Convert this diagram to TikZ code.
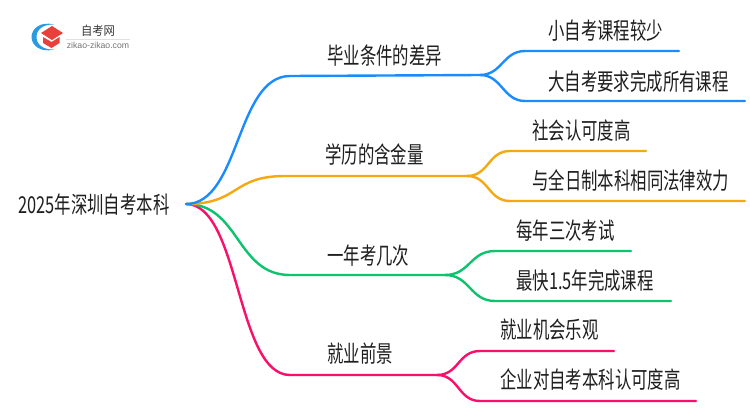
\documentclass[tikz,border=0pt]{standalone}
\usepackage{fontspec}
\setmainfont{Noto Sans CJK SC}
\newfontfamily\latinfont{Liberation Sans}
\definecolor{blueline}{HTML}{1A8CFF}
\definecolor{orangeline}{HTML}{F5A80F}
\definecolor{greenline}{HTML}{0DC46E}
\definecolor{pinkline}{HTML}{FA0F6B}
\definecolor{logored}{HTML}{E8403A}
\definecolor{logoblue}{HTML}{2A9BE0}
\newcommand{\tallbox}[1]{\scalebox{1}[1.42]{#1}}
\tikzset{
label/.style={anchor=west,inner sep=0pt,font=\fontsize{16.4}{20}\selectfont,text=black!88},
branch/.style={line width=2.4pt,line cap=round}
}
\begin{document}
\begin{tikzpicture}[x=1pt,y=-1pt]
\useasboundingbox (0,0) rectangle (750,410);
\fill [white] (0,0) rectangle (750,410);

\fill [logoblue] (54,24.5) .. controls (40,21) and (31.5,29) .. (31.5,37) .. controls (31.5,45) and (40,53) .. (54,49.5) .. controls (44,50) and (36.5,45) .. (36.5,37) .. controls (36.5,29) and (44,24) .. (54,24.5) -- cycle;
\fill [logored] (52,26) -- (63,33) -- (52,40) -- (41,33) -- cycle;
\fill [logored] (43,37) -- (51.5,42) -- (59.5,37) -- (59.5,43) -- (51.5,48) -- (43,43) -- cycle;
\node [inner sep=0pt,font=\fontsize{11.3}{13}\selectfont,text=black!78] (logoname) at (98,31) {\scalebox{1}[1.1]{自考网}};
\draw [black!12,line width=0.6pt] (66,39) -- (130,39);
\node [inner sep=0pt,font=\latinfont\fontsize{8.7}{10}\selectfont,text=black!55,anchor=center] (logourl) at (98,45) {zikao-zikao.com};

\node [label] (root) at (18,205) {\tallbox{2025年深圳自考本科}};
\coordinate (start) at (186,204);

\node [label] (graduate) at (327,56) {\tallbox{毕业条件的差异}};
\coordinate (graduatea) at (290,76);
\coordinate (graduateb) at (480,75);
\node [label] (fewer) at (548,31) {\tallbox{小自考课程较少}};
\coordinate (fewera) at (525,51);
\coordinate (fewerb) at (679,51);
\node [label] (allcourse) at (548,82) {\tallbox{大自考要求完成所有课程}};
\coordinate (allcoursea) at (525,101);
\coordinate (allcourseb) at (745,101);

\node [label] (degree) at (325,155) {\tallbox{学历的含金量}};
\coordinate (degreea) at (285,176);
\coordinate (degreeb) at (467,176);
\node [label] (social) at (532,131) {\tallbox{社会认可度高}};
\coordinate (sociala) at (510,151);
\coordinate (socialb) at (646,151);
\node [label] (legal) at (532,181) {\tallbox{与全日制本科相同法律效力}};
\coordinate (legala) at (510,201);
\coordinate (legalb) at (745,201);

\node [label] (times) at (327,256) {\tallbox{一年考几次}};
\coordinate (timesa) at (290,275);
\coordinate (timesb) at (445,275);
\node [label] (thrice) at (516,231) {\tallbox{每年三次考试}};
\coordinate (thricea) at (495,251);
\coordinate (thriceb) at (631,251);
\node [label] (fastest) at (516,281) {\tallbox{最快1.5年完成课程}};
\coordinate (fastesta) at (495,301);
\coordinate (fastestb) at (671,301);

\node [label] (career) at (327,354) {\tallbox{就业前景}};
\coordinate (careera) at (290,375);
\coordinate (careerb) at (437,375);
\node [label] (chance) at (500,330) {\tallbox{就业机会乐观}};
\coordinate (chancea) at (480,351);
\coordinate (chanceb) at (614,351);
\node [label] (accept) at (500,380) {\tallbox{企业对自考本科认可度高}};
\coordinate (accepta) at (480,401);
\coordinate (acceptb) at (696,401);

\draw [branch,pinkline] (start) .. controls +(54,0) and +(-54,0) .. (careera) -- (careerb);
\draw [branch,greenline] (start) .. controls +(54,0) and +(-54,0) .. (timesa) -- (timesb);
\draw [branch,orangeline] (start) .. controls +(54,0) and +(-54,0) .. (degreea) -- (degreeb);
\draw [branch,blueline] (start) .. controls +(54,0) and +(-54,0) .. (graduatea) -- (graduateb);

\draw [branch,blueline] (graduateb) .. controls +(22,0) and +(-22,0) .. (fewera) -- (fewerb);
\draw [branch,blueline] (graduateb) .. controls +(22,0) and +(-22,0) .. (allcoursea) -- (allcourseb);
\draw [branch,orangeline] (degreeb) .. controls +(22,0) and +(-22,0) .. (sociala) -- (socialb);
\draw [branch,orangeline] (degreeb) .. controls +(22,0) and +(-22,0) .. (legala) -- (legalb);
\draw [branch,greenline] (timesb) .. controls +(25,0) and +(-25,0) .. (thricea) -- (thriceb);
\draw [branch,greenline] (timesb) .. controls +(25,0) and +(-25,0) .. (fastesta) -- (fastestb);
\draw [branch,pinkline] (careerb) .. controls +(22,0) and +(-22,0) .. (chancea) -- (chanceb);
\draw [branch,pinkline] (careerb) .. controls +(22,0) and +(-22,0) .. (accepta) -- (acceptb);
\end{tikzpicture}
\end{document}
